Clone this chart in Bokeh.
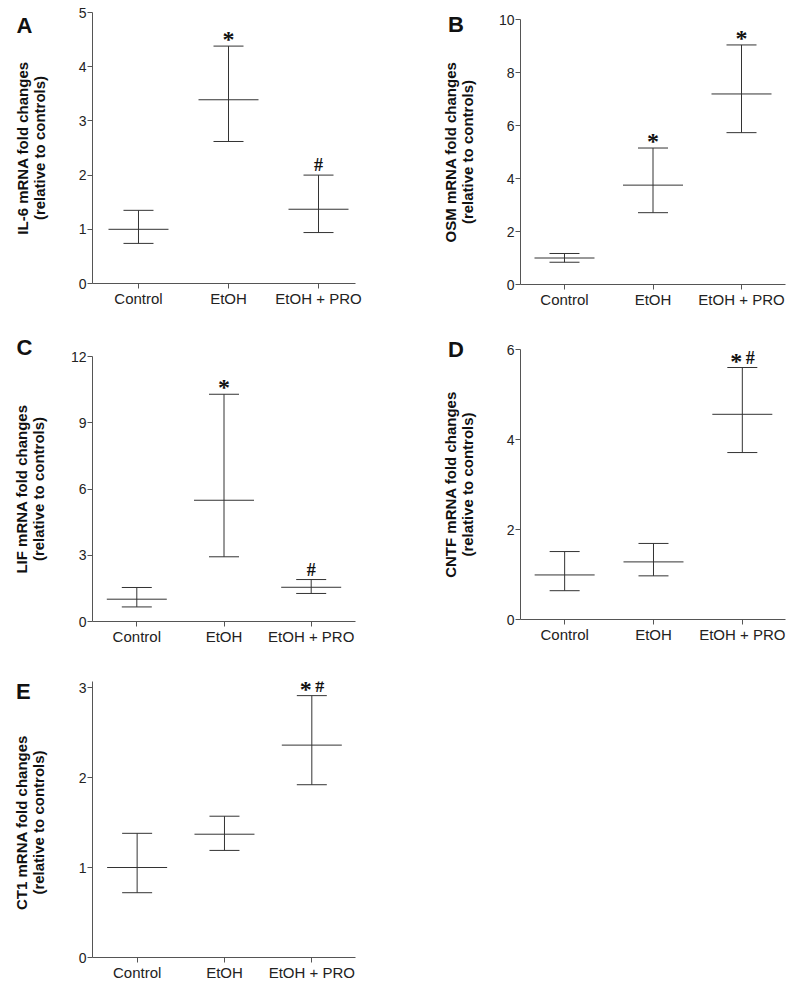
import math
from bokeh.plotting import figure
from bokeh.layouts import row, column
from bokeh.models import (FixedTicker, LabelSet, ColumnDataSource, Range1d,
                          Whisker, TeeHead)
from bokeh.core.properties import value
from bokeh.embed import file_html
from bokeh.resources import INLINE

FONT = "Liberation Sans"
LINE = "#333333"
AXIS = "#555555"
TXT = "#111111"

categories = ["Control", "EtOH", "EtOH + PRO"]

il6_mean = [1.00, 3.39, 1.37]
il6_upper = [1.35, 4.38, 2.00]
il6_lower = [0.74, 2.62, 0.94]
il6_marks = ["", "*", "#"]
il6_ticks = [0, 1, 2, 3, 4, 5]

osm_mean = [1.00, 3.75, 7.19]
osm_upper = [1.17, 5.15, 9.04]
osm_lower = [0.84, 2.71, 5.73]
osm_marks = ["", "*", "*"]
osm_ticks = [0, 2, 4, 6, 8, 10]

lif_mean = [1.01, 5.49, 1.55]
lif_upper = [1.54, 10.29, 1.90]
lif_lower = [0.66, 2.93, 1.27]
lif_marks = ["", "*", "#"]
lif_ticks = [0, 3, 6, 9, 12]

cntf_mean = [0.99, 1.28, 4.56]
cntf_upper = [1.51, 1.69, 5.60]
cntf_lower = [0.64, 0.97, 3.71]
cntf_marks = ["", "", "*#"]
cntf_ticks = [0, 2, 4, 6]

ct1_mean = [1.00, 1.37, 2.36]
ct1_upper = [1.38, 1.57, 2.91]
ct1_lower = [0.72, 1.19, 1.92]
ct1_marks = ["", "", "*#"]
ct1_ticks = [0, 1, 2, 3]

letters = ["A", "B", "C", "D", "E"]
genes = ["IL-6", "OSM", "LIF", "CNTF", "CT1"]


def panel(mean, upper, lower, marks, yticks, width, height, borders, xr, ytop):
    left, right, top, bottom = borders
    xs = list(range(len(categories)))
    p = figure(width=width, height=height,
               x_range=Range1d(*xr), y_range=Range1d(yticks[0], ytop),
               output_backend="svg", toolbar_location=None,
               min_border_left=left, min_border_right=right,
               min_border_top=top, min_border_bottom=bottom)
    p.outline_line_color = None
    p.grid.visible = False
    p.background_fill_color = "white"
    p.border_fill_color = "white"

    src = ColumnDataSource(dict(x=xs, mean=mean, upper=upper, lower=lower))
    p.add_layout(Whisker(source=src, base="x", upper="upper", lower="lower",
                         dimension="height", line_color=LINE, line_width=1,
                         upper_head=TeeHead(size=30, line_color=LINE, line_width=1),
                         lower_head=TeeHead(size=30, line_color=LINE, line_width=1)))
    p.scatter("x", "mean", source=src, marker="dash", size=60,
              line_color=LINE, line_width=1)

    st = dict(x=[], y=[], t=[], dx=[])
    hs = dict(x=[], y=[], t=[], dx=[])
    for i, m in enumerate(marks):
        both = ("*" in m) and ("#" in m)
        if "*" in m:
            st["x"].append(i); st["y"].append(upper[i]); st["t"].append("*")
            st["dx"].append(-6 if both else 0)
        if "#" in m:
            hs["x"].append(i); hs["y"].append(upper[i]); hs["t"].append("#")
            hs["dx"].append(8 if both else 0)
    p.add_layout(LabelSet(source=ColumnDataSource(st), x="x", y="y", text="t",
                          x_offset="dx", y_offset=-1, text_align="center",
                          text_baseline="alphabetic", text_font=FONT,
                          text_font_size="24px", text_font_style="bold",
                          text_color=TXT))
    p.add_layout(LabelSet(source=ColumnDataSource(hs), x="x", y="y", text="t",
                          x_offset="dx", y_offset=4, text_align="center",
                          text_baseline="alphabetic", text_font=FONT,
                          text_font_size="18px", text_font_style="bold",
                          text_color=TXT))

    p.xaxis.ticker = FixedTicker(ticks=xs)
    p.xaxis.major_label_overrides = {i: c for i, c in enumerate(categories)}
    p.yaxis.ticker = FixedTicker(ticks=yticks)
    for ax in (p.xaxis, p.yaxis):
        ax.axis_line_color = AXIS
        ax.axis_line_width = 1
        ax.major_tick_line_color = AXIS
        ax.major_tick_out = 5
        ax.major_tick_in = 0
        ax.minor_tick_line_color = None
        ax.major_label_text_font = FONT
        ax.major_label_text_color = "#222222"
        ax.major_label_standoff = 1
    p.xaxis.major_label_text_font_size = "15px"
    p.yaxis.major_label_text_font_size = "14px"
    return p


# main panels (sizes / borders / x ranges are layout only)
pa = panel(il6_mean, il6_upper, il6_lower, il6_marks, il6_ticks,
           340, 320, (32, 45, 12, 37), (-0.511, 2.411), il6_ticks[-1])
pb = panel(osm_mean, osm_upper, osm_lower, osm_marks, osm_ticks,
           320, 320, (40, 15, 19, 36), (-0.497, 2.497), osm_ticks[-1])
pc = panel(lif_mean, lif_upper, lif_lower, lif_marks, lif_ticks,
           340, 330, (31, 42, 36, 29), (-0.508, 2.508), lif_ticks[-1])
pd = panel(cntf_mean, cntf_upper, cntf_lower, cntf_marks, cntf_ticks,
           320, 330, (40, 10, 29, 31), (-0.497, 2.486), cntf_ticks[-1])
pe = panel(ct1_mean, ct1_upper, ct1_lower, ct1_marks, ct1_ticks,
           340, 334, (31, 38, 31, 27), (-0.511, 2.5), ct1_ticks[-1] + 0.067)

# side strips holding panel letters and y-axis titles (page pixel geometry)
H = 984
# (axis_x, frame_top, frame_bottom, letter_left, letter_captop) on the page
geo = [(92, 12, 283, 16, 16), (520, 19, 284, 447.5, 15),
       (91, 356, 621, 16, 338), (520, 349, 619, 447.5, 340),
       (91, 687, 957, 15.5, 682)]
side_of = [0, 1, 0, 1, 0]
origins = [(0, 60), (400, 80)]


def side_fig(k):
    ox, w = origins[k]
    s = figure(width=w, height=H, x_range=Range1d(0, w), y_range=Range1d(0, H),
               x_axis_type=None, y_axis_type=None, output_backend="svg",
               toolbar_location=None, min_border_left=0, min_border_right=0,
               min_border_top=0, min_border_bottom=0)
    s.outline_line_color = None
    s.background_fill_color = "white"
    s.border_fill_color = "white"
    lx, ly, lt = [], [], []
    tx, ty, tt = [], [], []
    for i in range(5):
        if side_of[i] != k:
            continue
        ax, ft, fb, llx, lly = geo[i]
        lx.append(llx - ox); ly.append(H - (lly - 4)); lt.append(letters[i])
        cy = H - (ft + fb) / 2
        tx.append(ax - 70.3 - ox); ty.append(cy); tt.append(genes[i] + " mRNA fold changes")
        tx.append(ax - 53.3 - ox); ty.append(cy); tt.append("(relative to controls)")
    s.text(x=lx, y=ly, text=lt, text_font=value(FONT), text_font_size="22px",
           text_font_style="bold", text_align="left", text_baseline="top",
           text_color=TXT)
    s.text(x=tx, y=ty, text=tt, angle=math.pi / 2, text_font=value(FONT),
           text_font_size="15px", text_font_style="bold", text_align="center",
           text_baseline="middle", text_color=TXT)
    return s


sl = side_fig(0)
sm = side_fig(1)

layout = row(sl, column(pa, pc, pe), sm, column(pb, pd))

open("out.html", "w").write(file_html(layout, INLINE))
